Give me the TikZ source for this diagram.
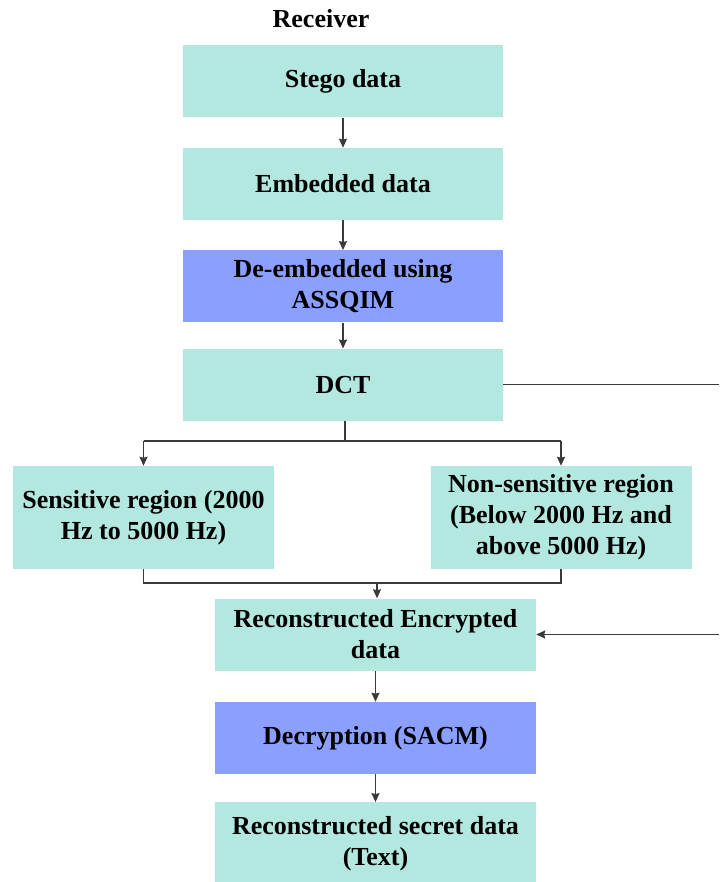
\documentclass[tikz,border=0pt]{standalone}
\usepackage{fontspec}
\setmainfont{Liberation Serif}
\usetikzlibrary{positioning, arrows.meta, calc}
\definecolor{boxteal}{HTML}{B3E8E0}
\definecolor{boxblue}{HTML}{8A9FFF}
\definecolor{linegray}{HTML}{3A3A3A}
\tikzset{
	>={Stealth[length=9pt,width=8pt,inset=1pt]}, % arrow heads
	wire/.style={draw=linegray, line width=1.5pt}, % connector look
	box/.style={fill=boxteal, draw=none, minimum width=320pt, minimum height=72pt,
		align=center, font=\fontsize{26}{31}\selectfont\bfseries}, % the green-blue boxes
	bluebox/.style={box, fill=boxblue}, % the two processing steps
	sidebox/.style={box, minimum width=261pt, minimum height=103pt}, % the two regions
	arr/.style={wire, ->}, % directed connector
}
\begin{document}
\begin{tikzpicture}[x=1pt,y=1pt]
		\useasboundingbox (0,0) rectangle (719,-882);
		\node[font=\fontsize{26}{31}\selectfont\bfseries] (title) at (321,-19) {Receiver};
		\node[box] (stego) at (343,-81.5) {Stego data};
		\node[box, below=30pt of stego] (embed) {Embedded data};
		\node[bluebox, below=30pt of embed] (deemb) {De-embedded using\\ASSQIM};
		\node[box, below=26pt of deemb] (dct) {DCT};
		\node[sidebox] (sens) at (143.5,-517.5) {Sensitive region (2000\\Hz to 5000 Hz)};
		\node[sidebox] (nons) at (561,-517.5) {Non-sensitive region\\(Below 2000 Hz and\\above 5000 Hz)};
		\node[box, minimum width=321pt] (recon) at (375.5,-634.5) {Reconstructed Encrypted\\data};
		\node[bluebox, minimum width=321pt, below=31pt of recon] (decr) {Decryption (SACM)};
		\node[box, minimum width=321pt, minimum height=83pt, below=28pt of decr] (secret) {Reconstructed secret data\\(Text)};
		
		\coordinate (split) at (345,-441);
		\coordinate (merge) at (377,-583);
		\coordinate (outA) at (719,-383);
		\coordinate (outB) at (719,-635);
		
		\draw[arr] (stego) -- (embed);
		\draw[arr] (embed) -- (deemb);
		\draw[arr] (deemb) -- (dct);
		%
		\draw[wire] (dct.south -| split) -- (split);
		\draw[wire] (sens.north |- split) -- (nons.north |- split);
		\draw[arr] (sens.north |- split) -- (sens.north);
		\draw[arr] (nons.north |- split) -- (nons.north);
		%
		\draw[wire] (sens.south) -- (sens.south |- merge) -| (nons.south);
		\draw[arr] (merge) -- (recon.north -| merge);
		%
		\draw[wire] (dct.east) -- (dct.east -| outA);
		\draw[arr] (recon.east -| outB) -- (recon.east);
		%
		\draw[arr] (recon) -- (decr);
		\draw[arr] (decr) -- (secret);
	\end{tikzpicture}
\end{document}
